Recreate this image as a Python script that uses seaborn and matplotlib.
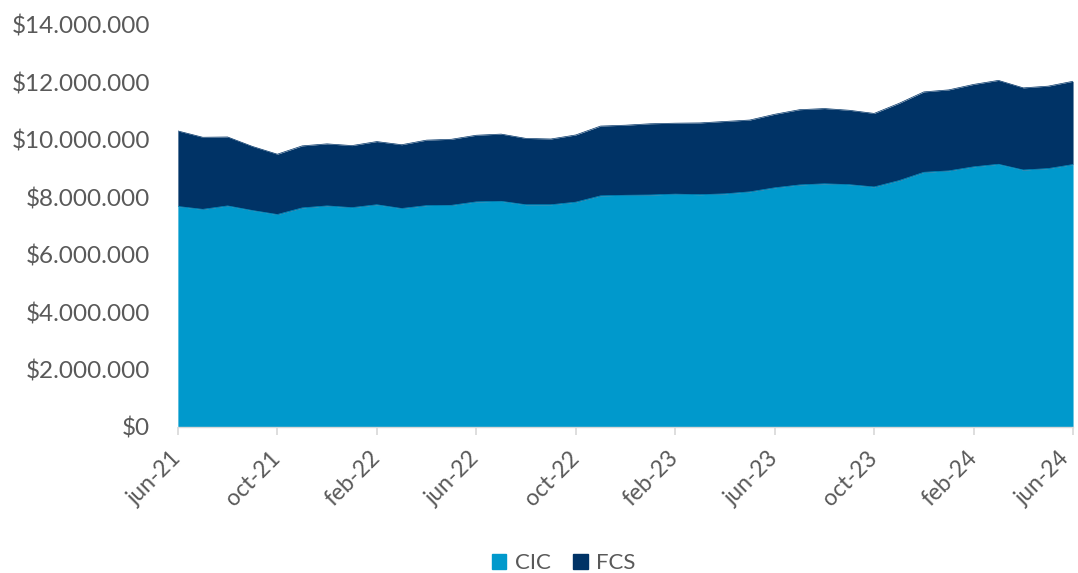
import matplotlib
matplotlib.use("Agg")
import matplotlib.pyplot as plt
import matplotlib.transforms as mtransforms
import seaborn as sns
import pandas as pd
from matplotlib.patches import Patch

months = ["jun", "jul", "ago", "sep", "oct", "nov", "dic", "ene", "feb", "mar", "abr", "may"]
labels = []
for i in range(37):
    m = (i) % 12
    year = 21 + (i + 5) // 12
    labels.append(f"{months[m]}-{year}")

total = [10.31, 10.09, 10.10, 9.77, 9.50, 9.79, 9.86, 9.80, 9.94, 9.83, 9.99, 10.02,
         10.16, 10.20, 10.05, 10.03, 10.17, 10.48, 10.51, 10.56, 10.58, 10.59, 10.64,
         10.69, 10.89, 11.05, 11.09, 11.03, 10.92, 11.27, 11.67, 11.74, 11.93, 12.07,
         11.81, 11.87, 12.04]
cic = [7.68, 7.58, 7.70, 7.54, 7.40, 7.63, 7.70, 7.64, 7.74, 7.61, 7.71, 7.72,
       7.84, 7.86, 7.74, 7.74, 7.83, 8.05, 8.07, 8.08, 8.11, 8.09, 8.12,
       8.19, 8.33, 8.43, 8.47, 8.44, 8.36, 8.58, 8.87, 8.92, 9.06, 9.15,
       8.95, 9.00, 9.14]
cic = [v * 1e6 for v in cic]
fcs = [t * 1e6 - c for t, c in zip(total, cic)]

df = pd.DataFrame({"mes": labels, "CIC": cic, "FCS": fcs})
df["x"] = range(len(df))
df["top"] = df["CIC"] + df["FCS"]

sns.set_theme(style="white")
plt.rcParams["font.family"] = ["Lato", "DejaVu Sans"]

c_cic = "#0099CC"
c_fcs = "#003366"
gray = "#595959"

fig = plt.figure(figsize=(10.78, 5.73), dpi=100)
ax = fig.add_axes([0.165, 0.2548, 0.8304, 0.7016])

ax.stackplot(df["x"], df["CIC"], df["FCS"], colors=[c_cic, c_fcs], linewidth=0)
sns.lineplot(data=df, x="x", y="top", ax=ax, color=c_fcs, linewidth=0.5)
sns.lineplot(data=df, x="x", y="CIC", ax=ax, color=c_cic, linewidth=0.5)

ax.set_xlim(0, 36)
ax.set_ylim(0, 14e6)
ticks = list(range(0, 37, 4))
ax.set_xticks(ticks)
ax.set_xticklabels([labels[i] for i in ticks], rotation=45, ha="right", va="center",
                   rotation_mode="anchor", fontsize=16.5, color=gray)
yt = list(range(0, 14000001, 2000000))
ax.set_yticks(yt)
ax.set_yticklabels(["$" + f"{v:,}".replace(",", ".") for v in yt], fontsize=17.5, color=gray)
ax.set_xlabel("")
ax.set_ylabel("")

for s in ["top", "right", "left"]:
    ax.spines[s].set_visible(False)
ax.spines["bottom"].set_color("#D9D9D9")
ax.spines["bottom"].set_linewidth(1)
ax.tick_params(axis="x", which="major", bottom=True, length=6, color="#D9D9D9", pad=14)
ax.tick_params(axis="y", left=False, pad=14)

# nudge the last x label slightly so it stays inside the figure
last = ax.get_xticklabels()[-1]
last.set_transform(last.get_transform() +
                   mtransforms.ScaledTranslation(-7 / 100, 0, fig.dpi_scale_trans))

handles = [Patch(color=c_cic, label="CIC"), Patch(color=c_fcs, label="FCS")]
fig.legend(handles=handles, loc="center", bbox_to_anchor=(0.523, 0.0175), ncol=2,
           frameon=False, fontsize=16, handlelength=0.65, handleheight=0.65,
           handletextpad=0.4, columnspacing=1.0, labelcolor=gray)

fig.savefig("out.png", dpi=100)
